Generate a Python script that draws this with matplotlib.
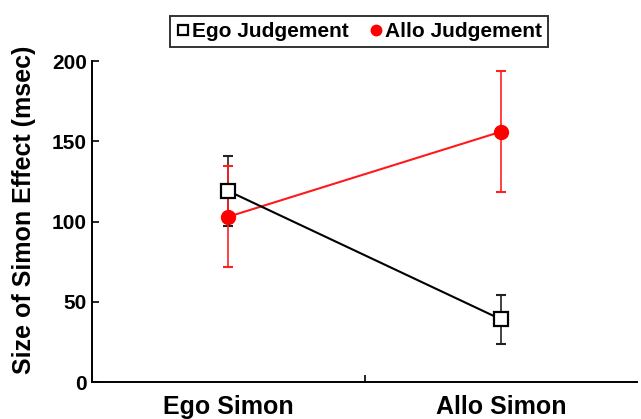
import numpy as np
import matplotlib.pyplot as plt

conditions = ['Ego Simon', 'Allo Simon']
ego_mean = [119, 39]
ego_err = [22, 15.5]
allo_mean = [103, 156]
allo_err = [31.5, 37.7]

plt.rcParams['font.family'] = 'Liberation Sans'
plt.rcParams['font.weight'] = 'bold'

fig = plt.figure(figsize=(6.41, 4.19), dpi=100)
ax = fig.add_axes([0.1435, 0.0883, 0.851, 0.766])

x = np.array([0.5, 1.5])

# error bars underneath, markers on top
ax.errorbar(x, ego_mean, yerr=ego_err, fmt='none', ecolor='#222222',
            elinewidth=1.2, capsize=3.5, capthick=1.5, zorder=2)
ax.errorbar(x, allo_mean, yerr=allo_err, fmt='none', ecolor='#ff2020',
            elinewidth=1.2, capsize=3.5, capthick=1.5, zorder=2)
ax.plot(x, ego_mean, color='black', lw=1.5, marker='s', ms=10,
        mfc='white', mec='black', mew=1.6, label='Ego Judgement', zorder=4)
ax.plot(x, allo_mean, color='#ff1a1a', lw=1.5, marker='o', ms=10,
        mfc='red', mec='red', label='Allo Judgement', zorder=3)

ax.set_xlim(0, 2)
ax.set_ylim(0, 200)
ax.set_yticks([0, 50, 100, 150, 200])
ax.set_xticks([1])
ax.set_xticklabels([''])
ax.set_xticks(x, minor=True)
ax.set_xticklabels(conditions, minor=True, fontsize=18, fontweight='bold')
ax.tick_params(axis='x', which='minor', length=0, pad=9)
ax.tick_params(axis='both', which='major', direction='in', length=5, width=1.2,
               labelsize=15)
ax.spines['top'].set_visible(False)
ax.spines['right'].set_visible(False)
ax.spines['left'].set_linewidth(1.4)
ax.spines['bottom'].set_linewidth(1.4)
ax.set_ylabel('Size of Simon Effect (msec)', fontsize=18, fontweight='bold')
ax.yaxis.set_label_coords(-0.103, 0.536)

leg = ax.legend(loc='lower center', bbox_to_anchor=(0.49, 1.01), ncol=2,
                frameon=True, fancybox=False, edgecolor='black',
                handlelength=0.6, handletextpad=0.15, columnspacing=1.0,
                borderpad=0.3, prop={'size': 15, 'weight': 'bold'},
                markerscale=0.75)
leg.get_frame().set_linewidth(1.4)
for h in leg.get_lines():
    h.set_linestyle('none')

fig.savefig('out.png', dpi=100)
